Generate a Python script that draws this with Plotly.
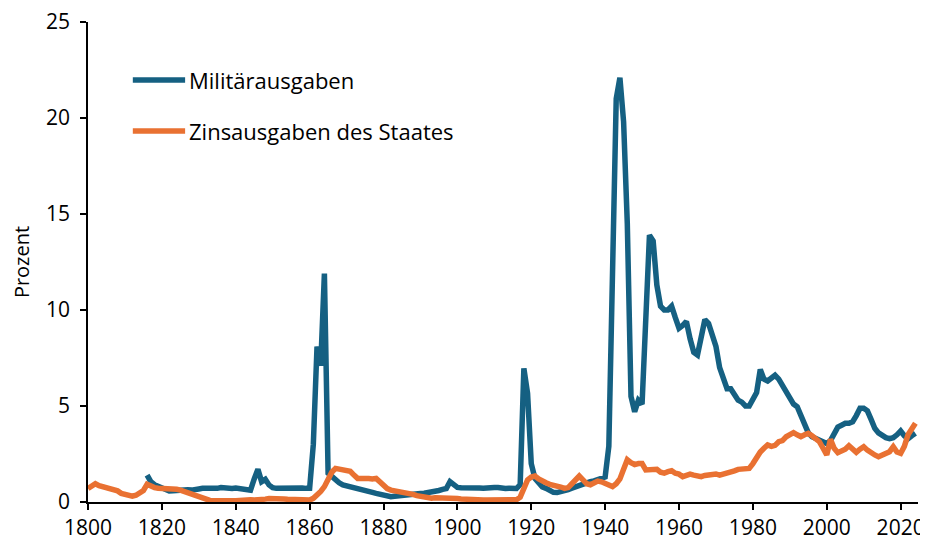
import plotly.graph_objects as go

mil_years = list(range(1816, 2025))
mil = [
 1.4, 1.06, 0.9, 0.83, 0.75, 0.65, 0.57, 0.58, 0.6, 0.63,   # 1816-1825
 0.66, 0.64, 0.62, 0.62, 0.68, 0.71, 0.7, 0.72, 0.7, 0.71,  # 1826-1835
 0.75, 0.72, 0.7, 0.71, 0.73, 0.71, 0.68, 0.62, 0.62, 1.2,  # 1836-1845
 1.7, 1.06, 1.18, 0.89, 0.75, 0.71, 0.72, 0.74, 0.75, 0.75, # 1846-1855
 0.74, 0.76, 0.73, 0.71, 0.71, 3.0, 8.1, 7.1, 11.9, 1.5,    # 1856-1865
 1.3, 1.1, 1.0, 0.89, 0.85, 0.8, 0.75, 0.68, 0.62, 0.58,    # 1866-1875
 0.55, 0.5, 0.45, 0.4, 0.35, 0.3, 0.28, 0.3, 0.33, 0.36,    # 1876-1885
 0.38, 0.4, 0.42, 0.43, 0.44, 0.46, 0.48, 0.5, 0.55, 0.6,   # 1886-1895
 0.66, 0.7, 1.06, 0.9, 0.76, 0.74, 0.75, 0.76, 0.76, 0.75,  # 1896-1905
 0.73, 0.72, 0.71, 0.74, 0.76, 0.76, 0.72, 0.7, 0.72, 0.68, # 1906-1915
 0.7, 0.9, 6.96, 5.66, 2.0, 1.23, 0.95, 0.78, 0.71, 0.6,    # 1916-1925
 0.5, 0.49, 0.52, 0.6, 0.65, 0.72, 0.8, 0.89, 0.95, 1.0,    # 1926-1935
 1.06, 1.1, 1.15, 1.23, 1.3, 2.9, 12.0, 21.0, 22.1, 19.8,   # 1936-1945
 14.5, 5.5, 4.7, 5.3, 5.1, 9.5, 13.9, 13.6, 11.3, 10.2,     # 1946-1955
 10.0, 10.0, 10.2, 9.6, 9.05, 9.2, 9.4, 8.5, 7.8, 7.66,     # 1956-1965
 8.5, 9.5, 9.3, 8.8, 8.1, 7.0, 6.5, 5.9, 5.9, 5.6,          # 1966-1975
 5.3, 5.2, 5.0, 5.0, 5.3, 5.7, 6.9, 6.4, 6.3, 6.5,          # 1976-1985
 6.6, 6.4, 6.1, 5.8, 5.5, 5.1, 4.96, 4.5, 4.0, 3.6,         # 1986-1995
 3.4, 3.3, 3.2, 3.1, 3.05, 3.2, 3.58, 3.9, 4.0, 4.1,        # 1996-2005
 4.1, 4.18, 4.5, 4.88, 4.88, 4.75, 4.3, 3.84, 3.6, 3.45,    # 2006-2015
 3.35, 3.3, 3.35, 3.5, 3.7, 3.45, 3.3, 3.45, 3.58,          # 2016-2024
]

zins_years = list(range(1800, 2025))
zins = [
 0.7, 0.85, 0.95, 0.85, 0.8, 0.78, 0.7, 0.65, 0.58, 0.45,   # 1800-1809
 0.38, 0.32, 0.3, 0.35, 0.45, 0.6, 0.92, 0.8, 0.75, 0.72,   # 1810-1819
 0.72, 0.7, 0.68, 0.66, 0.66, 0.62, 0.55, 0.45, 0.38, 0.3,  # 1820-1829
 0.24, 0.18, 0.12, 0.08, 0.06, 0.05, 0.05, 0.05, 0.05, 0.06,# 1830-1839
 0.07, 0.08, 0.1, 0.14, 0.12, 0.1, 0.1, 0.12, 0.15, 0.18,   # 1840-1849
 0.19, 0.18, 0.17, 0.16, 0.14, 0.13, 0.12, 0.1, 0.1, 0.1,   # 1850-1859
 0.1, 0.19, 0.35, 0.55, 0.8, 1.2, 1.55, 1.75, 1.7, 1.65,    # 1860-1869
 1.63, 1.6, 1.4, 1.23, 1.23, 1.25, 1.22, 1.2, 1.23, 1.05,   # 1870-1879
 0.83, 0.7, 0.62, 0.59, 0.52, 0.5, 0.47, 0.45, 0.4, 0.33,   # 1880-1889
 0.28, 0.24, 0.2, 0.2, 0.22, 0.22, 0.22, 0.23, 0.24, 0.22,  # 1890-1899
 0.18, 0.16, 0.14, 0.13, 0.12, 0.11, 0.1, 0.1, 0.1, 0.1,    # 1900-1909
 0.1, 0.1, 0.1, 0.1, 0.1, 0.1, 0.12, 0.25, 0.8, 1.15,       # 1910-1919
 1.3, 1.35, 1.2, 1.06, 1.0, 0.92, 0.89, 0.85, 0.78, 0.71,   # 1920-1929
 0.75, 0.95, 1.2, 1.35, 1.15, 0.95, 0.9, 1.0, 1.09, 1.05,   # 1930-1939
 0.95, 0.85, 0.8, 0.95, 1.2, 1.7, 2.2, 2.05, 1.95, 2.0,     # 1940-1949
 2.0, 1.67, 1.68, 1.72, 1.7, 1.55, 1.5, 1.58, 1.63, 1.5,    # 1950-1959
 1.45, 1.32, 1.4, 1.45, 1.4, 1.35, 1.32, 1.38, 1.4, 1.42,   # 1960-1969
 1.46, 1.4, 1.45, 1.49, 1.5, 1.62, 1.7, 1.72, 1.72, 1.75,   # 1970-1979
 2.0, 2.35, 2.6, 2.8, 2.97, 2.9, 2.95, 3.14, 3.2, 3.4,      # 1980-1989
 3.5, 3.61, 3.5, 3.4, 3.5, 3.58, 3.45, 3.3, 3.14, 2.8,      # 1990-1999
 2.45, 3.26, 2.8, 2.57, 2.65, 2.75, 2.93, 2.75, 2.59, 2.75, # 2000-2009
 2.88, 2.7, 2.53, 2.45, 2.36, 2.45, 2.55, 2.62, 2.88, 2.6,  # 2010-2019
 2.53, 2.9, 3.5, 3.85, 4.1,                                  # 2020-2024
]

x_ticks = [1800, 1820, 1840, 1860, 1880, 1900, 1920, 1940, 1960, 1980, 2000, 2020]
y_ticks = [0, 5, 10, 15, 20, 25]

BLUE = "#156082"
ORANGE = "#E97132"
FONT = "Open Sans"

fig = go.Figure()
fig.add_trace(go.Scatter(x=mil_years, y=mil, mode="lines", name="Militärausgaben",
                         line=dict(color=BLUE, width=5.5)))
fig.add_trace(go.Scatter(x=zins_years, y=zins, mode="lines", name="Zinsausgaben des Staates",
                         line=dict(color=ORANGE, width=5.5)))

# custom legend (line sample + label), positioned in paper coordinates
leg_x0, leg_x1 = 0.054, 0.117
for tr, ly in zip(fig.data, [0.879, 0.773]):
    fig.add_shape(type="line", xref="paper", yref="paper",
                  x0=leg_x0, x1=leg_x1, y0=ly, y1=ly,
                  line=dict(color=tr.line.color, width=5.5))
    fig.add_annotation(xref="paper", yref="paper", x=leg_x1 + 0.002, y=ly,
                       xanchor="left", yanchor="middle", text=tr.name,
                       showarrow=False, font=dict(size=22, family=FONT, color="black"))

# page body has an 8px margin: size the figure so it fills the 928x545 window
fig.update_layout(
    width=920, height=537,
    margin=dict(l=80, r=10, t=14, b=43, autoexpand=False),
    paper_bgcolor="white", plot_bgcolor="white",
    font=dict(family=FONT, size=20, color="#000000"),
    showlegend=False,
)
fig.update_xaxes(range=[1800, 2024.7], tickvals=x_ticks, showgrid=False,
                 showline=True, linecolor="black", linewidth=1.5,
                 ticks="outside", ticklen=6, tickwidth=1.5, tickcolor="black",
                 zeroline=False, tickfont=dict(size=21), automargin=False,
                 ticklabeloverflow="allow")
fig.update_yaxes(range=[0, 25], tickvals=y_ticks, showgrid=False,
                 showline=True, linecolor="black", linewidth=1.5,
                 ticks="outside", ticklen=6, tickwidth=1.5, tickcolor="black",
                 zeroline=False, tickfont=dict(size=21), ticklabelstandoff=6,
                 automargin=False, ticklabeloverflow="allow",
                 title=dict(text="Prozent", font=dict(size=20), standoff=22))

fig.write_html("out.html")
